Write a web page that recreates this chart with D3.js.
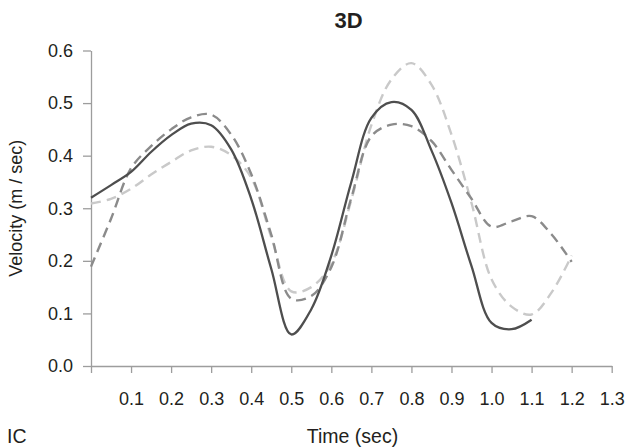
<!DOCTYPE html>
<html>
<head>
<meta charset="utf-8">
<script src="https://cdn.jsdelivr.net/npm/d3@7"></script>
<style>
  html, body { margin: 0; padding: 0; background: #fff; }
  svg { display: block; font-family: "Liberation Sans", Arial, Helvetica, sans-serif; }
</style>
</head>
<body>
<svg id="chart" width="631" height="447"></svg>
<script>
// Sample times (sec)
const times = [0.00, 0.05, 0.10, 0.15, 0.20, 0.25, 0.30, 0.35, 0.40, 0.45, 0.50, 0.55,
               0.60, 0.65, 0.70, 0.75, 0.80, 0.85, 0.90, 0.95, 1.00, 1.05, 1.10, 1.15, 1.20];

// Velocity (m/sec) for the three traces; null = no sample
const velSolid  = [0.320, 0.344, 0.369, 0.407, 0.439, 0.461, 0.458, 0.412, 0.318, 0.185, 0.060, 0.108,
                   0.210, 0.350, 0.472, 0.502, 0.487, 0.410, 0.310, 0.190, 0.082, 0.070, 0.088, null, null];
const velMedium = [0.189, 0.280, 0.376, 0.418, 0.450, 0.473, 0.478, 0.440, 0.365, 0.250, 0.128, 0.133,
                   0.188, 0.320, 0.437, 0.459, 0.456, 0.428, 0.373, 0.318, 0.265, 0.275, 0.285, 0.250, 0.198];
const velLight  = [0.309, 0.318, 0.337, 0.364, 0.388, 0.410, 0.417, 0.401, 0.358, 0.245, 0.142, 0.150,
                   0.195, 0.316, 0.458, 0.545, 0.576, 0.535, 0.440, 0.310, 0.165, 0.113, 0.098, 0.140, 0.210];

const xTicks = [0, 0.1, 0.2, 0.3, 0.4, 0.5, 0.6, 0.7, 0.8, 0.9, 1.0, 1.1, 1.2, 1.3];
const yTicks = [0.0, 0.1, 0.2, 0.3, 0.4, 0.5, 0.6];

const titleText = "3D";
const xLabel = "Time (sec)";
const yLabel = "Velocity (m / sec)";
const cornerLabel = "IC";

const svg = d3.select("#chart");
const axisColor = "#9d9d9d";
const textColor = "#231f20";

const x = d3.scaleLinear().domain([0, 1.3]).range([91, 611.7]);
const y = d3.scaleLinear().domain([0, 0.6]).range([366, 50.5]);

// X axis
const gx = svg.append("g").attr("transform", `translate(0,${y(0)})`)
  .call(d3.axisBottom(x).tickValues(xTicks)
    .tickFormat(d => d === 0 ? "" : d3.format(".1f")(d))
    .tickSize(7).tickSizeOuter(0).tickPadding(19));
// Y axis
const gy = svg.append("g").attr("transform", `translate(${x(0)},0)`)
  .call(d3.axisLeft(y).tickValues(yTicks)
    .tickFormat(d3.format(".1f"))
    .tickSize(8).tickSizeOuter(0).tickPadding(10));

[gx, gy].forEach(g => {
  g.select(".domain").attr("stroke", axisColor).attr("stroke-width", 1.3);
  g.selectAll(".tick line").attr("stroke", axisColor).attr("stroke-width", 1.3);
  g.selectAll(".tick text").attr("fill", textColor)
    .style("font-size", "18px").style("font-family", "'Liberation Sans', Arial, sans-serif");
});

// Traces
const series = [
  { values: velLight,  color: "#c9c9c9", dash: "10,6", width: 2.4 },
  { values: velMedium, color: "#8b8b8b", dash: "10,6", width: 2.4 },
  { values: velSolid,  color: "#4e4e4e", dash: null,   width: 2.3 }
];

const line = d3.line()
  .defined(d => d[1] !== null)
  .x(d => x(d[0]))
  .y(d => y(d[1]))
  .curve(d3.curveCatmullRom.alpha(0.5));

series.forEach(s => {
  const pts = times.map((t, i) => [t, s.values[i]]).filter(d => d[1] !== null);
  svg.append("path")
    .datum(pts)
    .attr("d", line)
    .attr("fill", "none")
    .attr("stroke", s.color)
    .attr("stroke-width", s.width)
    .attr("stroke-dasharray", s.dash)
    .attr("stroke-linejoin", "round");
});

// Titles
svg.append("text")
  .attr("x", 348.5).attr("y", 28)
  .attr("text-anchor", "middle")
  .attr("fill", textColor)
  .style("font-size", "22px").style("font-weight", "bold")
  .text(titleText);

svg.append("text")
  .attr("x", 352.5).attr("y", 443)
  .attr("text-anchor", "middle")
  .attr("fill", textColor)
  .style("font-size", "19.5px")
  .text(xLabel);

svg.append("text")
  .attr("x", 7).attr("y", 443)
  .attr("fill", textColor)
  .style("font-size", "19.5px")
  .text(cornerLabel);

svg.append("text")
  .attr("transform", `translate(22,${y(0.3)}) rotate(-90)`)
  .attr("text-anchor", "middle")
  .attr("fill", textColor)
  .style("font-size", "18px")
  .text(yLabel);
</script>
</body>
</html>
